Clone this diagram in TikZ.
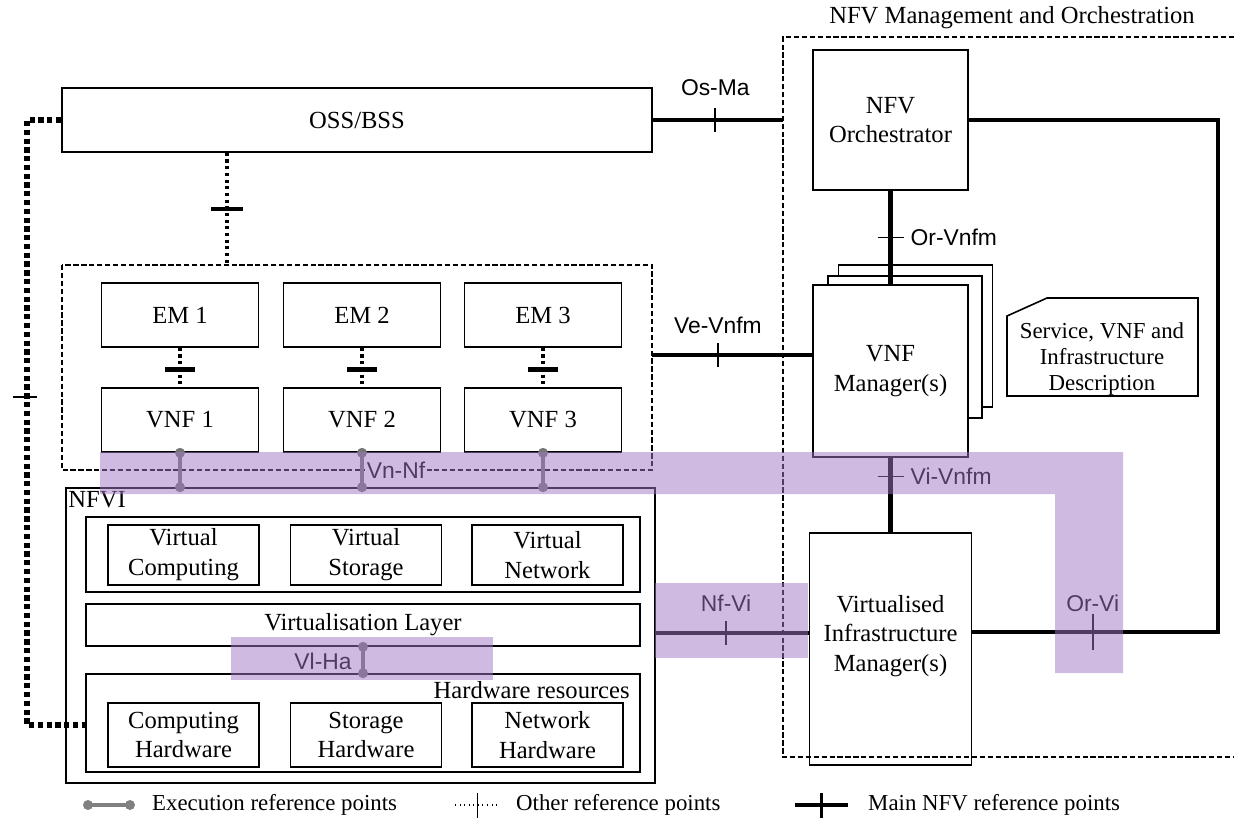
\documentclass[tikz,border=0pt]{standalone}
\usepackage{fontspec}
\setmainfont{Liberation Serif}
\newfontfamily\lblfont{Liberation Sans}
\usetikzlibrary{positioning,calc}
\definecolor{hlpurple}{RGB}{160,118,196}
\definecolor{execgray}{RGB}{118,118,118}
\tikzset{
  txt/.style={font=\fontsize{14pt}{17pt}\selectfont},
  bx/.style args={#1/#2}{draw, line width=.9pt, inner sep=0pt, minimum width=#1*0.02cm, minimum height=#2*0.02cm, align=center, txt},
  dom/.style={line width=.7pt, dash pattern=on 3pt off 1.5pt},
  mainref/.style={line width=2.8pt},
  otherref/.style={line width=1.8pt, dotted},
  leftref/.style={line width=3pt, dash pattern=on 3pt off 2pt},
  tk/.style={line width=1pt},
  thicktk/.style={line width=2.4pt},
  execref/.style={execgray, line width=1.8pt},
  lbl/.style={font=\lblfont\fontsize{13pt}{15pt}\selectfont},
  lgd/.style={anchor=west, font=\fontsize{13pt}{15pt}\selectfont},
  hl/.style={fill=hlpurple, fill opacity=.5}
}
\begin{document}
\begin{tikzpicture}[x=0.02cm, y=-0.02cm]
\useasboundingbox (0,0) rectangle (1234,822);

% OSS/BSS and the VNF domain
\node[bx=590/64] (oss) at (357,120) {OSS/BSS};
\draw[dom] (62,265) rectangle (652,470);
\node[minimum width=590*0.02cm, minimum height=205*0.02cm, inner sep=0pt] (vnfdom) at (357,367.5) {};
\foreach \i/\x in {1/180,2/362,3/543}{
  \node[bx=157/64] (em\i) at (\x,315) {EM \i};
  \node[bx=157/64] (vnf\i) at (\x,420) {VNF \i};
  \draw[otherref] (em\i) -- coordinate[pos=.55] (emt\i) (vnf\i);
  \draw[thicktk] (emt\i) +(-15,0) -- +(15,0);
}
\coordinate (ox) at (227,0);
\draw[otherref] (oss.south -| ox) -- coordinate (osst) (vnfdom.north -| ox);
\draw[thicktk] (osst) +(-16,0) -- +(16,0);

% NFVI
\node[bx=589/295] (nfvi) at (360.5,635.5) {};
\node[anchor=west, txt, inner sep=0pt] (nfvilbl) at (68,500) {NFVI};
\node[bx=554/75] (vres) at (363,554.5) {};
\foreach \n/\x/\t in {vcomp/183.5/Computing, vstor/366/Storage, vnet/547.5/Network}
  \node[bx=151/60] (\n) at (\x,555) {Virtual\\\t};
\node[bx=554/42] (vlayer) at (363,625) {Virtualisation Layer};
\node[bx=554/98] (hwres) at (363,723) {};
\node[anchor=east, txt, inner sep=0pt] (hwlbl) at (630,690) {Hardware resources};
\foreach \n/\x/\t in {hcomp/183.5/Computing, hstor/366/Storage, hnet/547.5/Network}
  \node[bx=151/64] (\n) at (\x,735) {\t\\Hardware};

% execution reference points
\foreach \i in {1,2,3}{
  \draw[execref] (vnf\i.south) -- (vnf\i.south |- nfvi.north);
  \fill[execgray] (vnf\i.south) circle[radius=5] (vnf\i.south |- nfvi.north) circle[radius=5];
}
\node[lbl, fill=white, inner sep=1pt] (vnnf) at (396,470) {Vn-Nf};
\draw[execref] (vlayer.south) -- (hwres.north);
\fill[execgray] (vlayer.south) circle[radius=5] (hwres.north) circle[radius=5];
\node[lbl] (vlha) at (323,661) {Vl-Ha};

% MANO
\node[txt] (manolbl) at (1012,18) {NFV Management and Orchestration};
\draw[dom] (1234,37) -- (783,37) -- (783,757) -- (1234,757);
\coordinate (manoL) at (783,0);
\node[bx=155/140] (orch) at (890.5,120) {NFV\\Orchestrator};
\node[bx=154/142, fill=white] (vnfm3) at (915.5,336) {};
\node[bx=154/142, fill=white] (vnfm2) at (905,347) {};
\node[bx=155/172, fill=white] (vnfm) at (890.5,371) {VNF\\Manager(s)};
\node[align=center, font=\fontsize{13pt}{15pt}\selectfont] (docdesc) at (1102,359) {Service, VNF and\\Infrastructure\\Description};
\draw[line width=.9pt] (1007,316) -- (1047,298) -- (1198,298) -- (1198,396) -- (1007,396) -- cycle;
\node[bx=162/232] (vim) at (890.5,649) {};
\node[txt, align=center] (vimlbl) at (890.5,636) {Virtualised\\Infrastructure\\Manager(s)};

% main reference points
\draw[mainref] (oss.east) -- coordinate[pos=.48] (osma) (oss.east -| manoL);
\draw[tk] (osma) +(0,-12) -- +(0,12);
\node[lbl] (osmalbl) at ($(osma)+(0,-32)$) {Os-Ma};

\coordinate (vey) at (0,355);
\draw[mainref] (vnfdom.east |- vey) -- coordinate[pos=.41] (vevnfm) (vnfm.west |- vey);
\draw[tk] (vevnfm) +(0,-12) -- +(0,12);
\node[lbl] (vevnfmlbl) at ($(vevnfm)+(0,-30)$) {Ve-Vnfm};

\draw[mainref] (orch.south) -- coordinate[pos=.5] (orvnfm) (vnfm.north);
\draw[tk] (orvnfm) +(-13,0) -- +(13,0);
\node[lbl, anchor=west] (orvnfmlbl) at ($(orvnfm)+(14,0)$) {Or-Vnfm};

\draw[mainref] (vnfm.south) -- coordinate[pos=.25] (vivnfm) (vim.north);
\draw[tk] (vivnfm) +(-13,0) -- +(13,0);
\node[lbl, anchor=west] (vivnfmlbl) at ($(vivnfm)+(14,0)$) {Vi-Vnfm};

\coordinate (nfy) at (0,633);
\draw[mainref] (nfvi.east |- nfy) -- coordinate[pos=.46] (nfvit) (vim.west |- nfy);
\draw[tk] (nfvit) +(0,-12) -- +(0,12);
\node[lbl] (nfvilbl2) at ($(nfvit)+(0,-30)$) {Nf-Vi};

\coordinate (orR) at (1218,0);
\coordinate (ory) at (0,632);
\draw[mainref] (orch.east) -- (orch.east -| orR) -- (orR |- ory) -- coordinate[pos=.51] (orvi) (vim.east |- ory);
\draw[tk] (orvi) +(0,-18) -- +(0,18);
\node[lbl] (orvilbl) at ($(orvi)+(0,-29)$) {Or-Vi};

% OSS/BSS to hardware
\coordinate (lx) at (27,0);
\coordinate (hy) at (0,725);
\draw[leftref] (oss.west) -- (oss.west -| lx) -- coordinate[pos=.458] (lt) (lx |- hy) -- (hwres.west |- hy);
\draw[tk] (lt) +(-14,0) -- +(10,0);

% highlights
\fill[hl] (100,452) -- (1123,452) -- (1123,673) -- (1055,673) -- (1055,494) -- (100,494) -- cycle;
\fill[hl] (655,583) rectangle (808,658);
\fill[hl] (231,637) rectangle (493,680);

% legend
\coordinate (lga) at (88,805);
\coordinate (lgb) at (130,805);
\draw[execref, gray] (lga) -- (lgb);
\fill[gray] (lga) circle[radius=5] (lgb) circle[radius=5];
\node[lgd] (lgexec) at (146,805) {Execution reference points};
\coordinate (lgc) at (455,805);
\coordinate (lgd) at (500,805);
\draw[line width=.6pt, dotted] (lgc) -- coordinate (lgcd) (lgd);
\draw[line width=.8pt] (lgcd) +(0,-12) -- +(0,13);
\node[lgd] (lgother) at (510,805) {Other reference points};
\coordinate (lge) at (795,805);
\coordinate (lgf) at (848,805);
\draw[mainref] (lge) -- coordinate (lgef) (lgf);
\draw[line width=1.2pt] (lgef) +(0,-12) -- +(0,13);
\node[lgd] (lgmain) at (862,805) {Main NFV reference points};
\end{tikzpicture}
\end{document}
